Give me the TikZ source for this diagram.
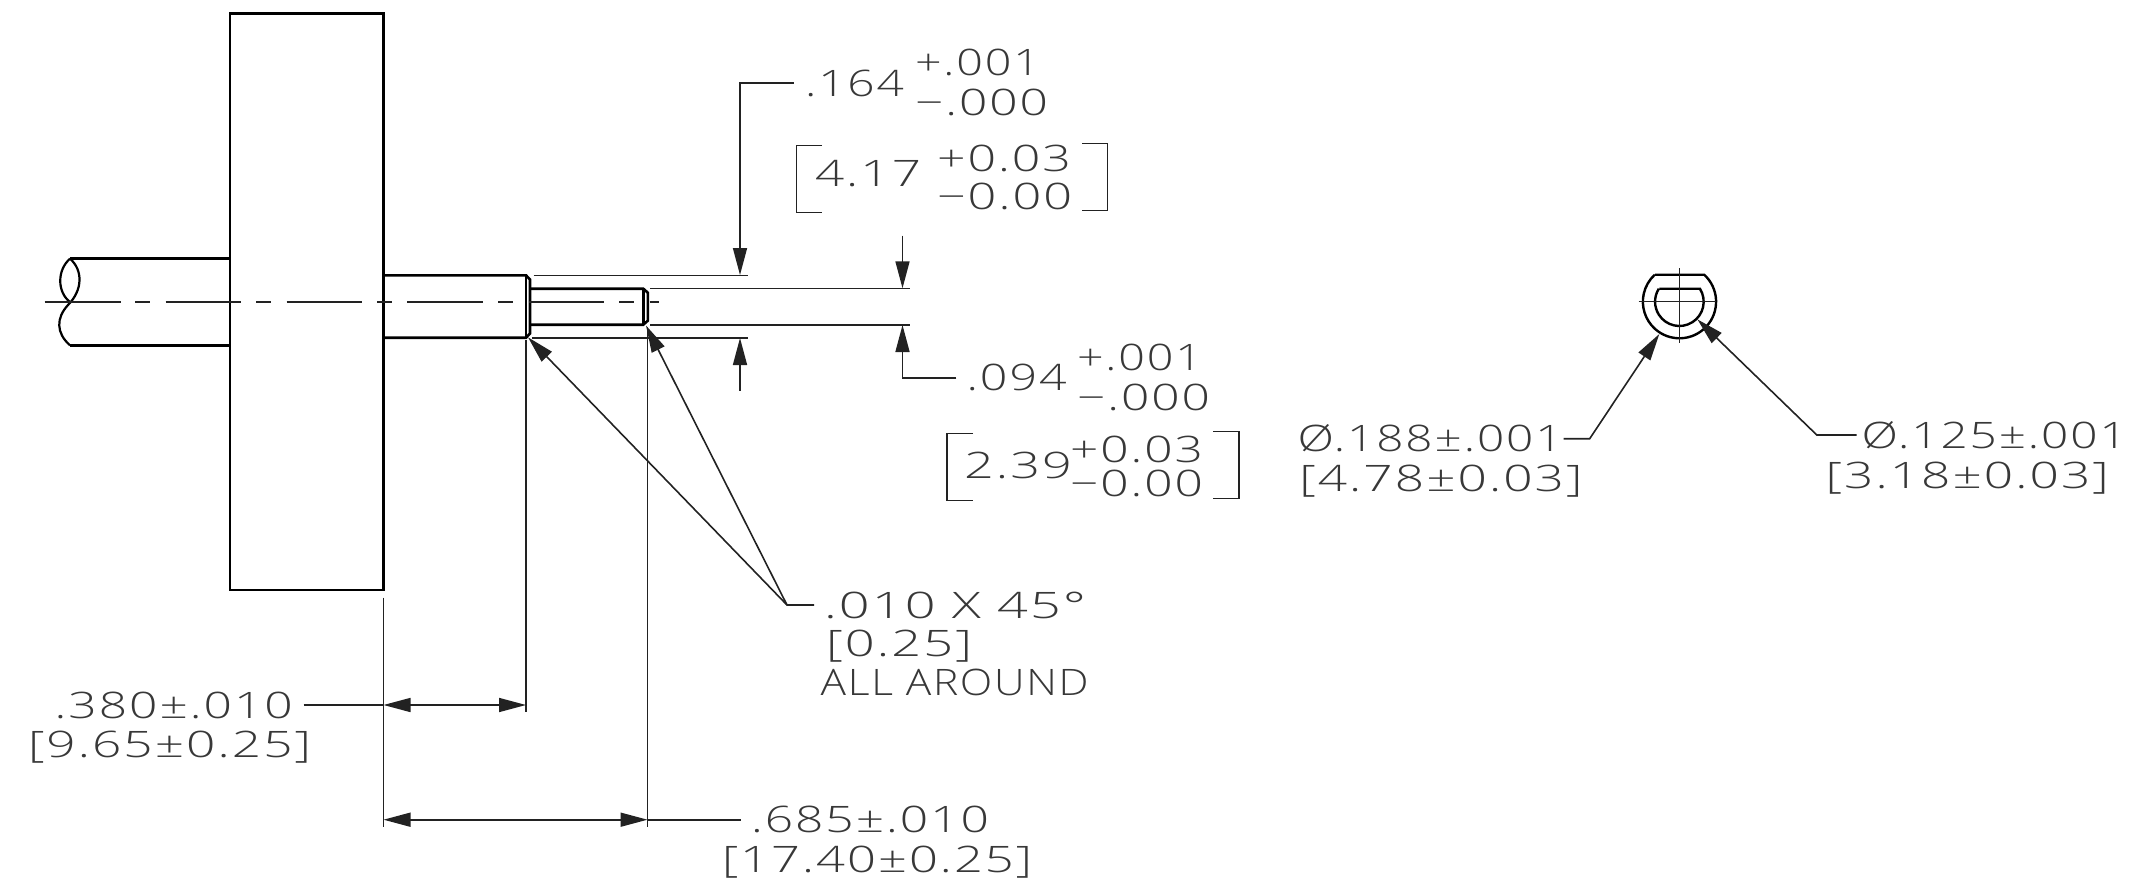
\documentclass[tikz,border=0pt]{standalone}
\usepackage{fontspec}
\usepackage{graphicx}
\setmainfont[LetterSpace=4]{Open Sans Light}
\usetikzlibrary{arrows.meta}
\definecolor{ink}{HTML}{222222}
\definecolor{txt}{HTML}{383838}
\tikzset{
  part/.style={draw=black,line width=2.6pt,line join=miter},
  thinl/.style={draw=ink,line width=1.4pt},
  dimline/.style={draw=ink,line width=1.6pt},
  center/.style={draw=ink,line width=1.4pt},
  tip/.tip={Triangle[length=27pt,width=14pt,color=ink]},
  lbl/.style={anchor=base west,inner sep=0pt,outer sep=0pt,text=txt,font=\fontsize{36.5}{37}\selectfont}
}
\newcommand{\fit}[2]{\resizebox{#1pt}{\height}{#2}}
\begin{document}
\begin{tikzpicture}[x=1pt,y=-1pt]
\useasboundingbox (0,0) rectangle (2155,888);
% named points
\coordinate (shaftTL) at (70,258.7);
\coordinate (shaftBL) at (70,345.3);
\coordinate (bodyTL) at (230,13.7);
\coordinate (bodyBR) at (383.5,590);
% part
\draw[part] (bodyTL) rectangle (bodyBR);
\draw[part] (shaftTL) -- (230,258.7);
\draw[part] (shaftBL) -- (230,345.3);
\draw[part,line width=2.2pt] (shaftTL) .. controls (57,270) and (57,292) .. (70,302);
\draw[part,line width=2.2pt] (shaftTL) .. controls (83,270) and (83,290) .. (68,305) .. controls (56,318) and (56,333) .. (shaftBL);
\draw[part] (383.5,275.3) -- (526,275.3) -- (530,279.5) -- (530,333.5) -- (526,337.7) -- (383.5,337.7);
\draw[part] (526,275.3) -- (526,337.7);
\draw[part] (530,288.7) -- (643.3,288.7) -- (647.8,292.7) -- (647.8,320.7) -- (643.3,324.7) -- (530,324.7);
\draw[part] (643.3,288.7) -- (643.3,324.7);
% centre line
\draw[center] (44.6,302) -- (120.5,302) (135,302) -- (150.4,302) (165.6,302) -- (241,302) (256,302) -- (271,302)
  (286.6,302) -- (362,302) (377,302) -- (392,302) (407,302) -- (483,302) (498,302) -- (513,302)
  (528.6,302) -- (604,302) (619,302) -- (634,302) (649.5,302) -- (659,302);
% extension lines
\coordinate (e1a) at (533.5,275.3); \coordinate (e1b) at (747.5,275.3);
\coordinate (e2a) at (650,288.3);   \coordinate (e2b) at (910,288.3);
\coordinate (e3a) at (650,325);     \coordinate (e3b) at (910,325);
\coordinate (e4a) at (532,338);     \coordinate (e4b) at (747.5,338);
\draw[thinl] (e1a)--(e1b) (e2a)--(e2b) (e3a)--(e3b) (e4a)--(e4b);
\coordinate (x1a) at (383.5,597.7); \coordinate (x1b) at (383.5,827);
\coordinate (x2a) at (526,340);     \coordinate (x2b) at (526,712);
\coordinate (x3a) at (647.5,327);   \coordinate (x3b) at (647.5,827);
\draw[thinl,line width=1.1pt] (x1a)--(x1b) (x2a)--(x2b) (x3a)--(x3b);
% dimension .164
\coordinate (a1s) at (793.6,83.3); \coordinate (a1c) at (740,83.3); \coordinate (a1t) at (740,275);
\draw[dimline,-{tip}] (a1s) -- (a1c) -- (a1t);
\coordinate (a2s) at (902.5,235.7); \coordinate (a2t) at (902.5,288.3);
\draw[dimline,-{tip}] (a2s) -- (a2t);
% dimension .094
\coordinate (a3s) at (740,390.7); \coordinate (a3t) at (740,338);
\draw[dimline,-{tip}] (a3s) -- (a3t);
\coordinate (a4s) at (956.4,377.7); \coordinate (a4c) at (902.5,377.7); \coordinate (a4t) at (902.5,325);
\draw[dimline,-{tip}] (a4s) -- (a4c) -- (a4t);
% chamfer leaders
\coordinate (c0) at (814,605); \coordinate (c1) at (787,605);
\coordinate (c2) at (528,337.3); \coordinate (c3) at (646,325.5);
\draw[dimline,-{tip}] (c0) -- (c1) -- (c2);
\draw[dimline,-{tip}] (c1) -- (c3);
% horizontal dims
\coordinate (d1l) at (383.5,705); \coordinate (d1r) at (526,705); \coordinate (d1e) at (303.5,705);
\draw[dimline,{tip}-{tip}] (d1l) -- (d1r);
\draw[dimline] (d1e) -- (d1l);
\coordinate (d2l) at (383.5,819.7); \coordinate (d2r) at (647.5,819.7); \coordinate (d2e) at (741,819.7);
\draw[dimline,{tip}-{tip}] (d2l) -- (d2r);
\draw[dimline] (d2r) -- (d2e);
% end view
\coordinate (ec) at (1679.6,301.7);
\draw[part,line width=2.4pt] (1655,274.7) -- (1704.2,274.7) arc[start angle=-47.5,end angle=227.5,radius=36.6,x=1pt,y=1pt] ;
\draw[part,line width=2.4pt] (1659.3,288.7) -- (1699.9,288.7) arc[start angle=-32.3,end angle=212.3,radius=24.3,x=1pt,y=1pt];
\draw[center] (1638.7,301.7) -- (1716,301.7) (1679.3,268.3) -- (1679.3,343.3);
\coordinate (l1a) at (1563.5,438.7); \coordinate (l1c) at (1589.7,438.7); \coordinate (l1t) at (1659.3,334);
\draw[dimline,-{tip}] (l1a) -- (l1c) -- (l1t);
\coordinate (l2a) at (1856.5,435); \coordinate (l2c) at (1816.8,435); \coordinate (l2t) at (1697.3,319.3);
\draw[dimline,-{tip}] (l2a) -- (l2c) -- (l2t);
% brackets
\draw[thinl] (822,145.7) -- (796.4,145.7) -- (796.4,212.7) -- (822,212.7);
\draw[thinl] (1082,143.3) -- (1107.5,143.3) -- (1107.5,210.3) -- (1082,210.3);
\draw[thinl] (973,433.3) -- (947,433.3) -- (947,500.7) -- (973,500.7);
\draw[thinl] (1213,431.7) -- (1239,431.7) -- (1239,498.7) -- (1213,498.7);
% text
\node[lbl] (t164) at (805,96.7) {\fit{99}{.164}};
\node[lbl] (t164p) at (915,76) {\fit{125}{+.001}};
\node[lbl] (t164m) at (915,116) {\fit{133}{−.000}};
\node[lbl] (t417) at (815,186) {\fit{106}{4.17}};
\node[lbl] (t417p) at (937,171.7) {\fit{134}{+0.03}};
\node[lbl] (t417m) at (937,209) {\fit{135}{−0.00}};
\node[lbl] (t094) at (966.6,390) {\fit{100}{.094}};
\node[lbl] (t094p) at (1077,370) {\fit{125}{+.001}};
\node[lbl] (t094m) at (1077,410) {\fit{133}{−.000}};
\node[lbl] (t239) at (964,478) {\fit{108}{2.39}};
\node[lbl] (t239p) at (1070,462) {\fit{133}{+0.03}};
\node[lbl] (t239m) at (1070,496) {\fit{133}{−0.00}};
\node[lbl] (t188) at (1297.5,451.7) {\fit{265}{Ø.188±.001}};
\node[lbl] (t478) at (1299.4,491.7) {\fit{283}{[4.78±0.03]}};
\node[lbl] (t125) at (1861.7,448) {\fit{265}{Ø.125±.001}};
\node[lbl] (t318) at (1825.7,488) {\fit{283}{[3.18±0.03]}};
\node[lbl] (t010) at (824,618) {\fit{262}{.010 X 45°}};
\node[lbl] (t025) at (826,656.7) {\fit{146}{[0.25]}};
\node[lbl] (tall) at (820.7,695) {\fit{268}{ALL AROUND}};
\node[lbl] (t380) at (54.7,718) {\fit{238}{.380±.010}};
\node[lbl] (t965) at (28,757.7) {\fit{283}{[9.65±0.25]}};
\node[lbl] (t685) at (751,832.7) {\fit{238}{.685±.010}};
\node[lbl] (t1740) at (722,872.7) {\fit{310}{[17.40±0.25]}};
\end{tikzpicture}
\end{document}
